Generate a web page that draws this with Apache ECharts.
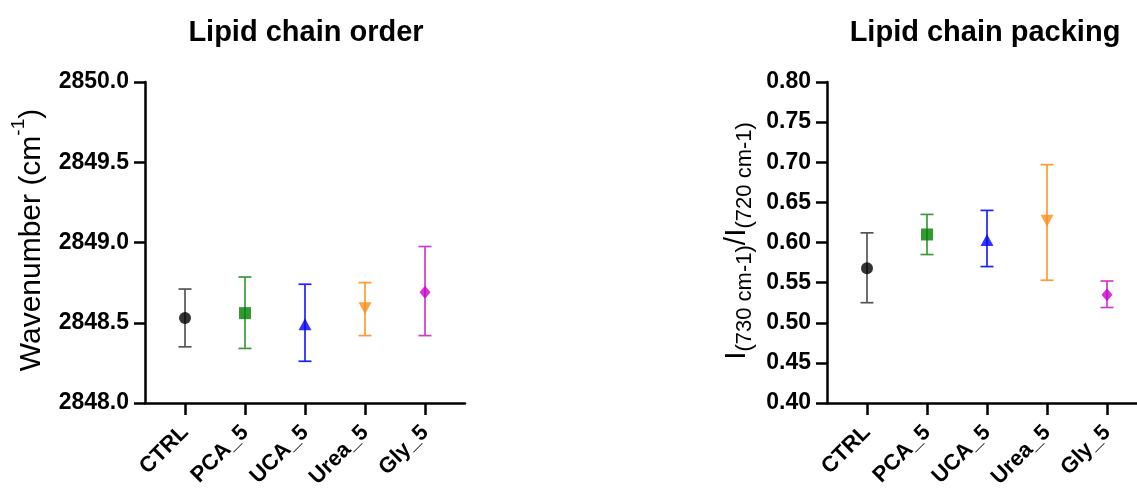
<!DOCTYPE html>
<html>
<head>
<meta charset="utf-8">
<script src="https://cdn.jsdelivr.net/npm/echarts@6/dist/echarts.min.js"></script>
<style>html,body{margin:0;padding:0;background:#fff;}#c{width:1137px;height:488px;}</style>
</head>
<body>
<div id="c"></div>
<script>
// ---------- data ----------
const categories = ['CTRL', 'PCA_5', 'UCA_5', 'Urea_5', 'Gly_5'];
// Lipid chain order (wavenumber, cm-1)
const orderMean  = [2848.53, 2848.56, 2848.49, 2848.59, 2848.69];
const orderLower = [2848.35, 2848.34, 2848.26, 2848.42, 2848.42];
const orderUpper = [2848.71, 2848.785, 2848.74, 2848.75, 2848.975];
// Lipid chain packing (intensity ratio)
const packMean  = [0.568, 0.610, 0.603, 0.627, 0.535];
const packLower = [0.525, 0.585, 0.570, 0.553, 0.519];
const packUpper = [0.612, 0.635, 0.640, 0.697, 0.552];
const orderTicks = [2848.0, 2848.5, 2849.0, 2849.5, 2850.0];
const packTicks = [0.40, 0.45, 0.50, 0.55, 0.60, 0.65, 0.70, 0.75, 0.80];

// ---------- styles ----------
const markerColors = ['#000000', '#008000', '#0000ff', '#ff8c1a', '#cc00cc'];
const barColors    = ['#555555', '#3a9a3a', '#2020ff', '#ff9a33', '#d03ad0'];
const symbols = ['circle', 'rect', 'triangle', 'triangle', 'diamond'];
const symbolRot = [0, 0, 0, 180, 0];
const symbolSizes = [12, 12, [13, 12], [13, 12], [11, 13]];

const FONT = 'Arial, "Liberation Sans", sans-serif';
const chart = echarts.init(document.getElementById('c'), null, {renderer: 'canvas'});

function xAxisCfg(gridIndex) {
  return {
    type: 'value', gridIndex,
    min: -2 / 3, max: 14 / 3,
    splitLine: {show: false},
    axisLine: {show: true, onZero: false, lineStyle: {color: '#000', width: 2.5}},
    axisTick: {show: true, length: 12, lineStyle: {color: '#000', width: 2.5}, customValues: [0, 1, 2, 3, 4]},
    axisLabel: {
      show: true, rotate: 45, margin: 26, customValues: [0, 1, 2, 3, 4],
      formatter: v => categories[Math.round(v)] || '',
      fontFamily: FONT, fontWeight: 'bold', fontSize: 22, color: '#000'
    }
  };
}
function yAxisCfg(gridIndex, ticks, digits) {
  return {
    type: 'value', gridIndex,
    min: ticks[0], max: ticks[ticks.length - 1],
    interval: +(ticks[1] - ticks[0]).toFixed(6),
    splitLine: {show: false},
    axisLine: {show: true, onZero: false, lineStyle: {color: '#000', width: 2.5}},
    axisTick: {show: true, length: 11, lineStyle: {color: '#000', width: 2.5}},
    axisLabel: {
      margin: 16, formatter: v => Number(v).toFixed(digits),
      fontFamily: FONT, fontWeight: 'bold', fontSize: 23, color: '#000'
    }
  };
}

function errSeries(idx, lower, upper) {
  return {
    type: 'custom', xAxisIndex: idx, yAxisIndex: idx, clip: false, z: 2,
    data: categories.map((c, i) => [i, lower[i], upper[i]]),
    renderItem: function (params, api) {
      const x = api.value(0);
      const pLo = api.coord([x, api.value(1)]);
      const pHi = api.coord([x, api.value(2)]);
      const w = 6.5;
      const style = {stroke: barColors[params.dataIndex], lineWidth: 1.7, fill: null};
      return {
        type: 'group',
        children: [
          {type: 'line', shape: {x1: pLo[0], y1: pLo[1], x2: pHi[0], y2: pHi[1]}, style},
          {type: 'line', shape: {x1: pLo[0] - w, y1: pLo[1], x2: pLo[0] + w, y2: pLo[1]}, style},
          {type: 'line', shape: {x1: pHi[0] - w, y1: pHi[1], x2: pHi[0] + w, y2: pHi[1]}, style}
        ]
      };
    }
  };
}
function markSeries(idx, mean) {
  return {
    type: 'scatter', xAxisIndex: idx, yAxisIndex: idx, z: 3, clip: false,
    data: categories.map((c, i) => ({
      value: [i, mean[i]],
      symbol: symbols[i], symbolRotate: symbolRot[i], symbolSize: symbolSizes[i],
      itemStyle: {color: markerColors[i]}
    }))
  };
}

chart.setOption({
  animation: false,
  backgroundColor: '#fff',
  title: [
    {text: 'Lipid chain order', left: 301, top: 13, textAlign: 'center',
     textStyle: {fontFamily: FONT, fontWeight: 'bold', fontSize: 29, color: '#000'}},
    {text: 'Lipid chain packing', left: 980, top: 13, textAlign: 'center',
     textStyle: {fontFamily: FONT, fontWeight: 'bold', fontSize: 29, color: '#000'}}
  ],
  grid: [
    {left: 145, top: 82, width: 320, height: 321, containLabel: false, outerBoundsMode: 'none'},
    {left: 827, top: 82, width: 320, height: 321, containLabel: false, outerBoundsMode: 'none'}
  ],
  xAxis: [xAxisCfg(0), xAxisCfg(1)],
  yAxis: [yAxisCfg(0, orderTicks, 1), yAxisCfg(1, packTicks, 2)],
  graphic: [
    {type: 'text', x: 28, y: 240, rotation: Math.PI / 2,
     style: {
       text: '{a|Wavenumber (cm}{s|-1}{a|)}',
       align: 'center', verticalAlign: 'middle',
       rich: {
         a: {fontFamily: FONT, fontSize: 30, color: '#000', lineHeight: 38, verticalAlign: 'bottom'},
         s: {fontFamily: FONT, fontSize: 19, color: '#000', lineHeight: 22, verticalAlign: 'top'}
       }
     }},
    {type: 'text', x: 739, y: 241, rotation: Math.PI / 2,
     style: {
       text: '{a|I}{s|(730 cm-1)}{a|/I}{s|(720 cm-1)}',
       align: 'center', verticalAlign: 'middle',
       rich: {
         a: {fontFamily: FONT, fontSize: 30, color: '#000', lineHeight: 34, verticalAlign: 'top'},
         s: {fontFamily: FONT, fontSize: 22, color: '#000', lineHeight: 25, verticalAlign: 'bottom', padding: [11, 0, 0, 0]}
       }
     }}
  ],
  series: [
    errSeries(0, orderLower, orderUpper), markSeries(0, orderMean),
    errSeries(1, packLower, packUpper), markSeries(1, packMean)
  ]
});
</script>
</body>
</html>
